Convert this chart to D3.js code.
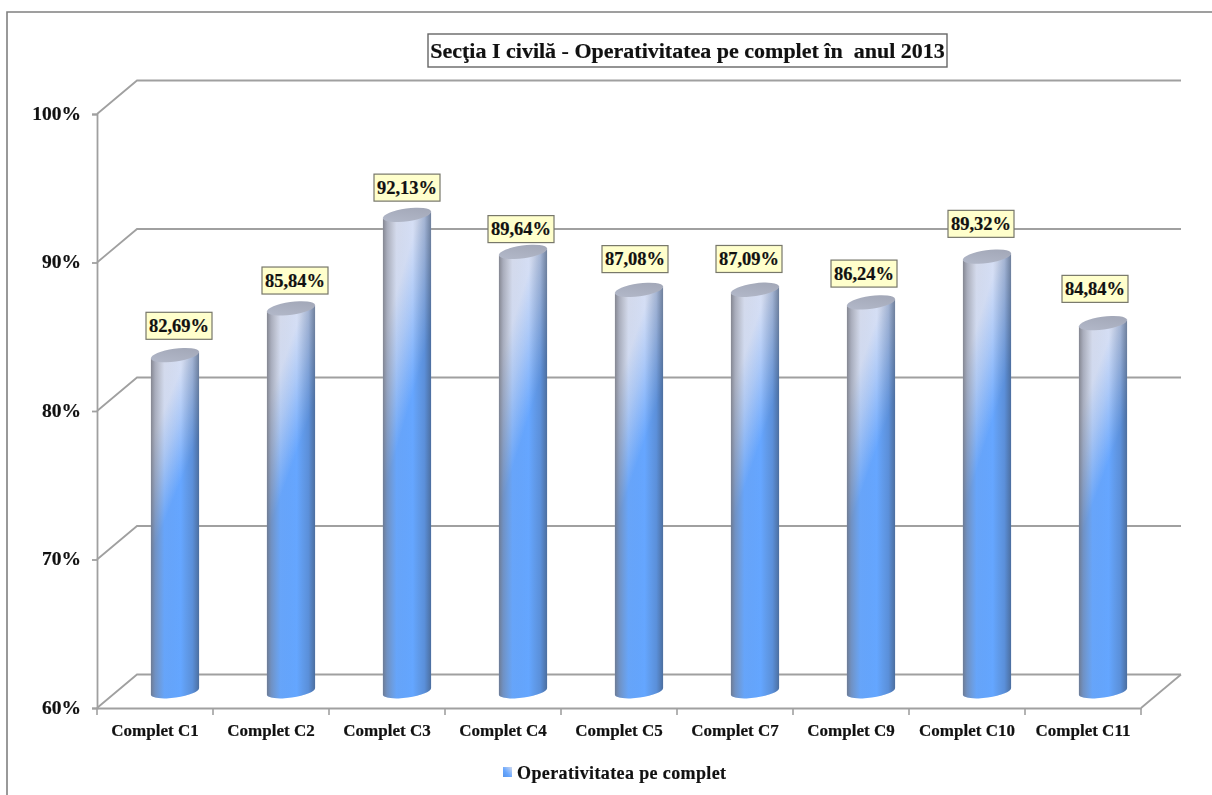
<!DOCTYPE html>
<html>
<head>
<meta charset="utf-8">
<script src="https://cdn.jsdelivr.net/npm/d3@7"></script>
<style>
html,body{margin:0;padding:0;background:#fff;overflow:hidden}
svg{display:block;filter:blur(0.35px)}
text{font-family:"Liberation Serif",serif;font-weight:bold;fill:#111;stroke:#111;stroke-width:0.2px}
</style>
</head>
<body>
<svg id="c" width="1212" height="795"></svg>
<script>
const categories = ["Complet C1","Complet C2","Complet C3","Complet C4","Complet C5","Complet C7","Complet C9","Complet C10","Complet C11"];
const operativitate = [82.69,85.84,92.13,89.64,87.08,87.09,86.24,89.32,84.84];
const yTicks = [60,70,80,90,100];
const titleText = "Secţia I civilă - Operativitatea pe complet în  anul 2013";
const seriesName = "Operativitatea pe complet";
// hand placement of the value labels relative to each column top
const labelNudgeX = [4,4,0,-2,-4,-6,-7,-6,-8];
const labelNudgeY = [-28.5,-27,-26.5,-22,-30,-30,-28,-32,-33.5];

const svg = d3.select("#c");
const M = {l:97,r:1141,t:114,b:708};
const depthX = 40, depthY = -33.5;
const GRID = "#a0a0a0";
const y = d3.scaleLinear().domain([60,100]).range([M.b,M.t]);
const x = d3.scaleBand().domain(categories).range([M.l,M.r]);
const rx = 24.3, ry = 6.4, tilt = -8;

const defs = svg.append("defs");
const body = defs.append("linearGradient").attr("id","body")
  .attr("x1",0.28).attr("y1",0).attr("x2",0.62).attr("y2",1);
[[0,"#d8def0"],[0.15,"#d4def5"],[0.27,"#acc9f8"],[0.44,"#66a6ff"],[1,"#64a6ff"]].forEach(s=>
  body.append("stop").attr("offset",s[0]).attr("stop-color",s[1]));
const shade = defs.append("linearGradient").attr("id","shade");
[[0,"#6f7078",0.8],[0.09,"#7a7c88",0.5],[0.28,"#888",0.05],[0.62,"#444",0],[0.86,"#3c4a66",0.24],[1,"#3a4658",0.58]].forEach(s=>
  shade.append("stop").attr("offset",s[0]).attr("stop-color",s[1]).attr("stop-opacity",s[2]));
const cap = defs.append("linearGradient").attr("id","cap").attr("x1",0).attr("x2",1).attr("y1",1).attr("y2",0);
cap.append("stop").attr("offset",0).attr("stop-color","#b4bacb");
cap.append("stop").attr("offset",1).attr("stop-color","#a0a5b5");
const leg = defs.append("linearGradient").attr("id","leg").attr("x1",1).attr("y1",0).attr("x2",0).attr("y2",1);
leg.append("stop").attr("offset",0).attr("stop-color","#cfd8ee");
leg.append("stop").attr("offset",0.6).attr("stop-color","#66a6ff");
leg.append("stop").attr("offset",1).attr("stop-color","#5a94e6");

// chart frame (top and left edges only are visible in the picture)
svg.append("path").attr("d","M7,795V12H1212").attr("fill","none").attr("stroke","#808080").attr("stroke-width",1.6);

// walls
const grid = svg.append("g").attr("fill","none").attr("stroke",GRID).attr("stroke-width",1.8);
grid.selectAll("path").data(yTicks).join("path")
  .attr("d",d=>`M${M.l},${y(d)}L${M.l+depthX},${y(d)+depthY}H${M.r+depthX}`);
grid.append("path").attr("d",`M${M.r+depthX},${y(60)+depthY}L${M.r},${y(60)}`);

// axes
const yAxis = d3.axisLeft(y).tickValues(yTicks).tickSize(5).tickPadding(11).tickFormat(d=>d+"%");
const gy = svg.append("g").attr("transform",`translate(${M.l},0)`).call(yAxis);
gy.selectAll("text").attr("font-size",19.5).attr("dy","0.28em").style("font-family",'"Liberation Serif",serif');
const xAxis = d3.axisBottom(x).tickSize(0).tickPadding(16);
const gx = svg.append("g").attr("transform",`translate(0,${M.b})`).call(xAxis);
gx.selectAll("text").attr("font-size",17).style("font-family",'"Liberation Serif",serif');
svg.selectAll(".domain").attr("stroke",GRID).attr("stroke-width",1.8);
gy.selectAll(".tick line").attr("stroke",GRID).attr("stroke-width",1.8);
const edges = categories.map(c=>x(c)).concat([M.r]);
svg.append("g").selectAll("line").data(edges).join("line")
  .attr("x1",d=>d).attr("x2",d=>d).attr("y1",M.b).attr("y2",M.b+7)
  .attr("stroke",GRID).attr("stroke-width",1.6);

// columns
const midX = depthX/2, midY = depthY/2;
const a = tilt*Math.PI/180, ex = rx*Math.cos(a), ey = rx*Math.sin(a);
const cols = svg.append("g").selectAll("g").data(operativitate).join("g")
  .attr("transform",(d,i)=>`translate(${x(categories[i])+x.bandwidth()/2+midX},0)`);
const side = d => {
  const t = y(d)+midY, b = y(60)+midY;
  return `M${-ex},${t-ey}L${-ex},${b-ey}A${rx},${ry} ${tilt} 0 0 ${ex},${b+ey}L${ex},${t+ey}A${rx},${ry} ${tilt} 0 1 ${-ex},${t-ey}Z`;
};
cols.append("path").attr("d",side).attr("fill","url(#body)");
cols.append("path").attr("d",side).attr("fill","url(#shade)");
cols.append("ellipse").attr("rx",rx).attr("ry",ry)
  .attr("transform",d=>`translate(0,${y(d)+midY+0.8}) rotate(${tilt})`)
  .attr("fill","url(#cap)");

// value labels
const fmt = d => d.toFixed(2).replace(".",",")+"%";
const labels = svg.append("g").selectAll("g").data(operativitate).join("g")
  .attr("transform",(d,i)=>`translate(${x(categories[i])+x.bandwidth()/2+midX+labelNudgeX[i]},${y(d)+midY+labelNudgeY[i]})`);
labels.append("rect").attr("x",-33).attr("y",-13.5).attr("width",66).attr("height",27)
  .attr("fill","#ffffcc").attr("stroke","#77776a").attr("stroke-width",1.2);
labels.append("text").attr("text-anchor","middle").attr("dy","0.34em").attr("font-size",18.5).text(fmt);

// title
const tg = svg.append("g");
tg.append("rect").attr("x",428).attr("y",34).attr("width",519).attr("height",33)
  .attr("fill","#fff").attr("stroke","#666").attr("stroke-width",1.4);
tg.append("text").attr("x",687.5).attr("y",50.5).attr("dy","0.34em").attr("text-anchor","middle")
  .attr("font-size",22).style("white-space","pre").text(titleText);

// legend
svg.append("rect").attr("x",503).attr("y",767).attr("width",9).attr("height",10).attr("fill","url(#leg)");
svg.append("text").attr("x",517).attr("y",772.5).attr("dy","0.34em").attr("font-size",18).attr("letter-spacing",0.38).text(seriesName);
</script>
</body>
</html>
